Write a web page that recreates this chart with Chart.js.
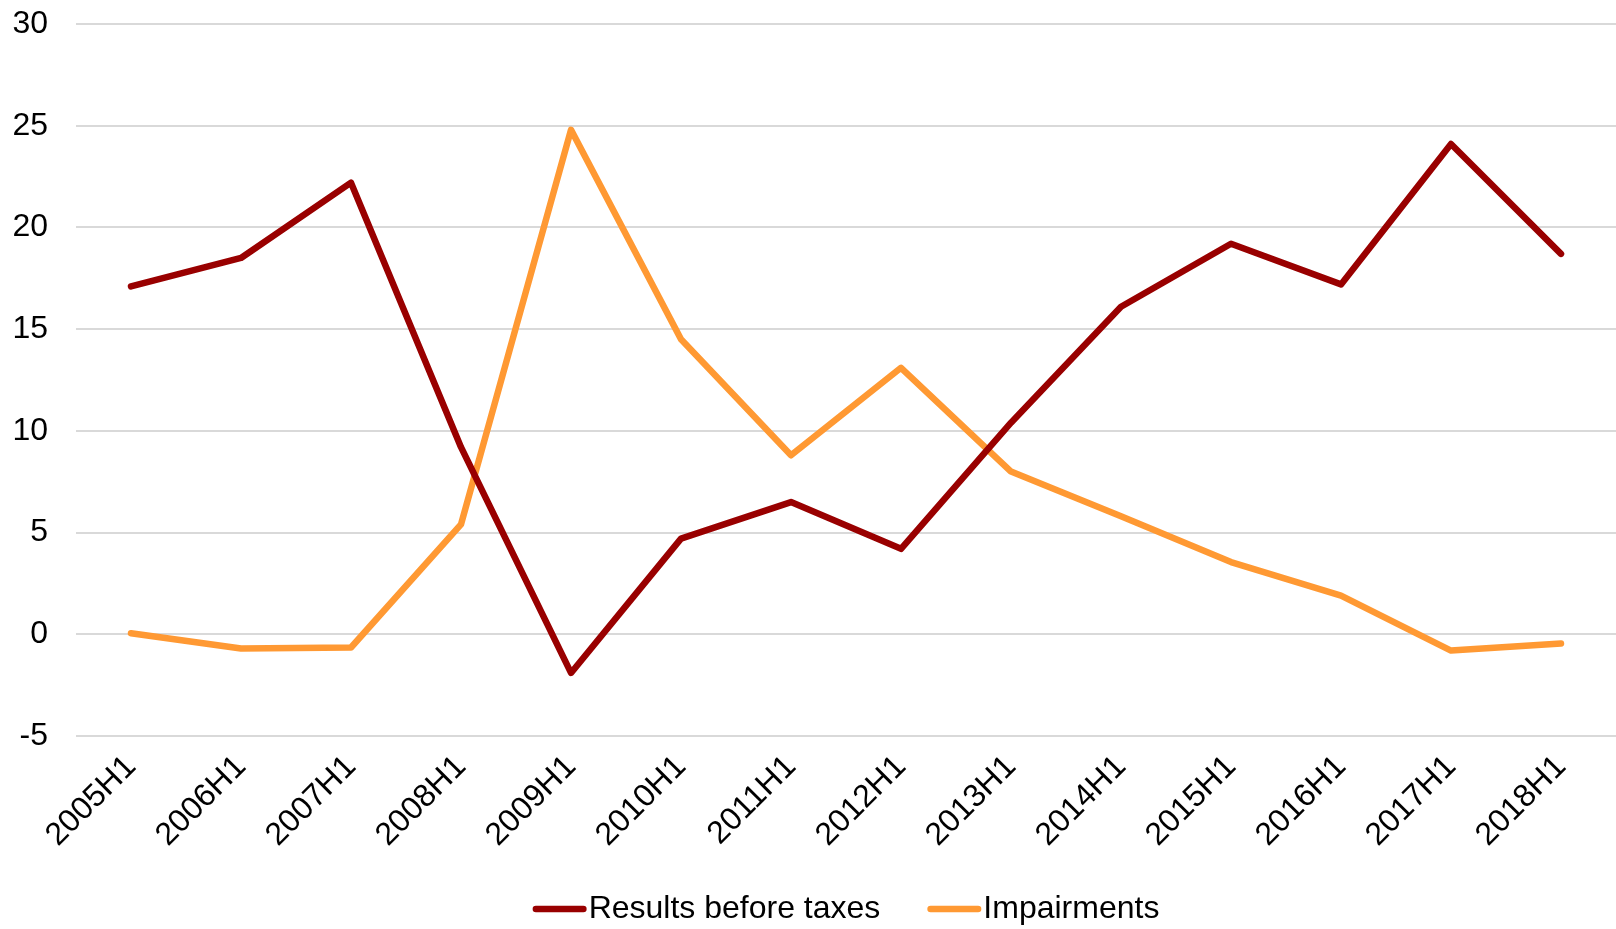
<!DOCTYPE html>
<html><head><meta charset="utf-8">
<script src="https://cdn.jsdelivr.net/npm/chart.js@4/dist/chart.umd.min.js"></script>
<style>html,body{margin:0;padding:0;background:#fff}</style>
</head><body>
<canvas id="c" width="1616" height="929"></canvas>
<script>
const categories = ['2005H1','2006H1','2007H1','2008H1','2009H1','2010H1','2011H1','2012H1','2013H1','2014H1','2015H1','2016H1','2017H1','2018H1'];
const resultsBeforeTaxes = [17.1, 18.5, 22.2, 9.2, -1.9, 4.7, 6.5, 4.2, 10.4, 16.1, 19.2, 17.2, 24.1, 18.7];
const impairments = [0.05, -0.7, -0.65, 5.4, 24.8, 14.5, 8.8, 13.1, 8.0, 5.8, 3.55, 1.9, -0.8, -0.45];
const yTicks = [-5, 0, 5, 10, 15, 20, 25, 30];
const seriesNames = ['Results before taxes', 'Impairments'];
const seriesColors = ['#990000', '#FF9933'];

const FONT = "'Liberation Sans', Arial, sans-serif";
const FS = 32;
const LW = 6.5;
Chart.defaults.font.family = FONT;
Chart.defaults.color = '#000';

const customLegend = {
  id: 'customLegend',
  afterDraw(chart) {
    const ctx = chart.ctx;
    const area = chart.chartArea;
    const lineLen = 54, gap = 2, itemGap = 47;
    ctx.save();
    ctx.font = FS + 'px ' + FONT;
    const items = chart.data.datasets.map(ds => ({
      text: ds.label, color: ds.borderColor, w: lineLen + gap + ctx.measureText(ds.label).width
    }));
    const total = items.reduce((s, it) => s + it.w, 0) + itemGap * (items.length - 1);
    let x = (area.left + area.right) / 2 - total / 2;
    const y = 909;
    items.forEach(it => {
      ctx.strokeStyle = it.color;
      ctx.lineWidth = LW;
      ctx.lineCap = 'round';
      ctx.beginPath();
      ctx.moveTo(x + LW / 2, y);
      ctx.lineTo(x + lineLen - LW / 2, y);
      ctx.stroke();
      ctx.fillStyle = '#000';
      ctx.textBaseline = 'middle';
      ctx.textAlign = 'left';
      ctx.fillText(it.text, x + lineLen + gap, y);
      x += it.w + itemGap;
    });
    ctx.restore();
  }
};

new Chart(document.getElementById('c'), {
  type: 'line',
  data: {
    labels: categories,
    datasets: [
      { label: seriesNames[0], data: resultsBeforeTaxes, borderColor: seriesColors[0], backgroundColor: seriesColors[0], borderWidth: LW, pointRadius: 0, tension: 0, borderJoinStyle: 'round', borderCapStyle: 'round' },
      { label: seriesNames[1], data: impairments, borderColor: seriesColors[1], backgroundColor: seriesColors[1], borderWidth: LW, pointRadius: 0, tension: 0, borderJoinStyle: 'round', borderCapStyle: 'round' }
    ]
  },
  options: {
    responsive: false,
    animation: false,
    devicePixelRatio: 1,
    layout: { padding: { top: 24, right: 0, bottom: 73, left: 0 } },
    plugins: { legend: { display: false }, tooltip: { enabled: false } },
    scales: {
      x: {
        type: 'category',
        offset: true,
        grid: { display: false, drawTicks: false },
        border: { display: false },
        ticks: { font: { size: FS }, color: '#000', maxRotation: 45, minRotation: 45, padding: 12, autoSkip: false },
        afterFit(scale) { scale.height = 120; scale.paddingLeft = 0; scale.paddingRight = 0; scale.paddingTop = 0; scale.paddingBottom = 0; }
      },
      y: {
        min: yTicks[0],
        max: yTicks[yTicks.length - 1],
        afterBuildTicks(scale) { scale.ticks = yTicks.map(v => ({ value: v })); },
        grid: { color: '#d9d9d9', lineWidth: 2, drawTicks: false },
        border: { display: false },
        ticks: { font: { size: FS }, color: '#000', padding: 28 },
        afterFit(scale) { scale.width = 76; scale.paddingTop = 0; scale.paddingBottom = 0; scale.paddingLeft = 0; scale.paddingRight = 0; }
      }
    }
  },
  plugins: [customLegend]
});
</script>
</body></html>
